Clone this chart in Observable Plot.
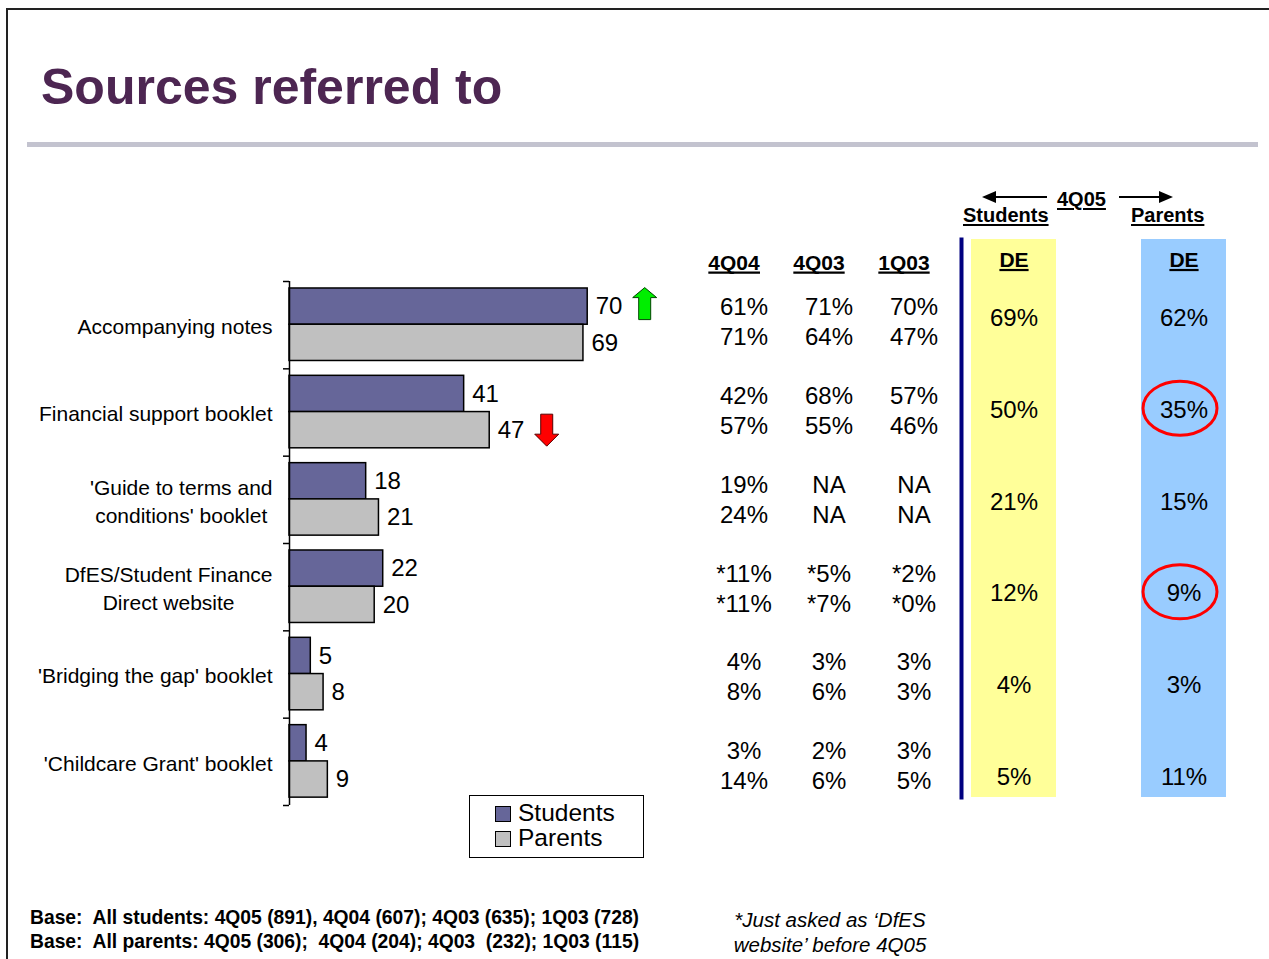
<!DOCTYPE html>
<html><head><meta charset="utf-8">
<script src="https://cdn.jsdelivr.net/npm/d3@7"></script>
<script src="https://cdn.jsdelivr.net/npm/@observablehq/plot@0.6"></script>
<style>
body{margin:0;background:#fff;font-family:"Liberation Sans",Arial,sans-serif;color:#000;}
#slide{position:relative;width:1269px;height:959px;overflow:hidden;background:#fff;}
.abs{position:absolute;white-space:pre;}
.u{text-decoration:underline;text-decoration-thickness:2px;text-underline-offset:2px;}
</style></head><body>
<div id="slide">
  <div class="abs" style="left:6px;top:8px;width:1300px;height:1000px;border-top:2px solid #222;border-left:2px solid #222;"></div>
  <div class="abs" style="left:41px;top:58px;font-size:50px;font-weight:bold;color:#4d2652;line-height:normal;">Sources referred to</div>
  <div class="abs" style="left:27px;top:142px;width:1231px;height:5px;background:#c3c3cf;"></div>

  <!-- 4Q05 header -->
  <div class="abs u" style="left:1057px;top:188px;font-size:20px;font-weight:bold;">4Q05</div>
  <div class="abs u" style="left:963px;top:204px;font-size:20px;font-weight:bold;">Students</div>
  <div class="abs u" style="left:1131px;top:204px;font-size:20px;font-weight:bold;">Parents</div>
  <div class="abs" style="left:994px;top:196px;width:53px;height:2px;background:#000;"></div>
  <div class="abs" style="left:982px;top:191px;width:0;height:0;border-top:6px solid transparent;border-bottom:6px solid transparent;border-right:14px solid #000;"></div>
  <div class="abs" style="left:1119px;top:196px;width:42px;height:2px;background:#000;"></div>
  <div class="abs" style="left:1159px;top:191px;width:0;height:0;border-top:6px solid transparent;border-bottom:6px solid transparent;border-left:14px solid #000;"></div>

  <div class="abs" id="bars" style="left:0px;top:260px;"></div>
  <div class="abs" id="table" style="left:690px;top:230px;"></div>
  <div class="abs" id="de" style="left:951px;top:239px;"></div>

  <!-- legend -->
  <div class="abs" id="legend" style="left:469px;top:795px;width:175px;height:63px;box-sizing:border-box;border:1.5px solid #000;background:#fff;"></div>

  <div class="abs" style="left:30px;top:906px;font-size:19.3px;font-weight:bold;line-height:24px;">Base:  All students: 4Q05 (891), 4Q04 (607); 4Q03 (635); 1Q03 (728)
Base:  All parents: 4Q05 (306);  4Q04 (204); 4Q03  (232); 1Q03 (115)</div>
  <div class="abs" style="left:690px;top:907px;width:280px;text-align:center;font-size:20.5px;font-style:italic;line-height:25px;">*Just asked as ‘DfES
website’ before 4Q05</div>
</div>
<script>
const FONT = '"Liberation Sans", Arial, sans-serif';

// ---- data ----
const categories = [
  "Accompanying notes",
  "Financial support booklet",
  "'Guide to terms and\nconditions' booklet",
  "DfES/Student Finance\nDirect website",
  "'Bridging the gap' booklet",
  "'Childcare Grant' booklet"
];
const seriesNames = ["Students", "Parents"];
const seriesColors = ["#666699", "#c0c0c0"];
const students = [70, 41, 18, 22, 5, 4];
const parents = [69, 47, 21, 20, 8, 9];
const studentTrend = ["up", "", "", "", "", ""];
const parentTrend = ["", "down", "", "", "", ""];

const trendColumns = ["4Q04", "4Q03", "1Q03"];
const students4Q04 = ["61%", "42%", "19%", "*11%", "4%", "3%"];
const students4Q03 = ["71%", "68%", "NA", "*5%", "3%", "2%"];
const students1Q03 = ["70%", "57%", "NA", "*2%", "3%", "3%"];
const parents4Q04 = ["71%", "57%", "24%", "*11%", "8%", "14%"];
const parents4Q03 = ["64%", "55%", "NA", "*7%", "6%", "6%"];
const parents1Q03 = ["47%", "46%", "NA", "*0%", "3%", "5%"];

const deColumns = ["Students", "Parents"];
const deHeader = "DE";
const studentsDE = ["69%", "50%", "21%", "12%", "4%", "5%"];
const parentsDE = ["62%", "35%", "15%", "9%", "3%", "11%"];
const parentsDEHighlighted = [false, true, false, true, false, false];

// ---- derived tables ----
const slot = {Students: [0.08, 0.495], Parents: [0.495, 0.91]};
const barRows = categories.flatMap((c, i) => [
  {i, cat: c, series: "Students", value: students[i], trend: studentTrend[i]},
  {i, cat: c, series: "Parents", value: parents[i], trend: parentTrend[i]}
]);
const mid = d => d.i + (slot[d.series][0] + slot[d.series][1]) / 2;

const sQ = [students4Q04, students4Q03, students1Q03];
const pQ = [parents4Q04, parents4Q03, parents1Q03];
const rowOffset = {Students: 0.331, Parents: 0.669};
const tableRows = categories.flatMap((c, i) => trendColumns.flatMap((col, j) => [
  {i, col, series: "Students", label: sQ[j][i]},
  {i, col, series: "Parents", label: pQ[j][i]}
]));
const deRows = categories.flatMap((c, i) => [
  {i, col: "Students", label: studentsDE[i], hl: false},
  {i, col: "Parents", label: parentsDE[i], hl: parentsDEHighlighted[i]}
]);

// ---- symbols ----
const upArrow = {draw(ctx) {
  ctx.moveTo(0, -16); ctx.lineTo(12, -6); ctx.lineTo(6, -6); ctx.lineTo(6, 16);
  ctx.lineTo(-6, 16); ctx.lineTo(-6, -6); ctx.lineTo(-12, -6); ctx.closePath();
}};
const downArrow = {draw(ctx) {
  ctx.moveTo(0, 16); ctx.lineTo(12, 4); ctx.lineTo(6, 4); ctx.lineTo(6, -16);
  ctx.lineTo(-6, -16); ctx.lineTo(-6, 4); ctx.lineTo(-12, 4); ctx.closePath();
}};
const ellipse = {draw(ctx) {
  const rx = 37, ry = 27, k = 0.5523;
  ctx.moveTo(rx, 0);
  ctx.bezierCurveTo(rx, k * ry, k * rx, ry, 0, ry);
  ctx.bezierCurveTo(-k * rx, ry, -rx, k * ry, -rx, 0);
  ctx.bezierCurveTo(-rx, -k * ry, -k * rx, -ry, 0, -ry);
  ctx.bezierCurveTo(k * rx, -ry, rx, -k * ry, rx, 0);
  ctx.closePath();
}};

const baseStyle = {fontFamily: FONT, fontSize: "24px", color: "#000", background: "transparent", overflow: "visible"};

// underline helper for SVG header texts
function underline(svg, desc, fontSize) {
  svg.querySelectorAll(`g[aria-description="${desc}"] text`).forEach(t => {
    const b = t.getBBox();
    const y = b.y + 0.905 * fontSize + 2.8;
    const line = document.createElementNS("http://www.w3.org/2000/svg", "line");
    line.setAttribute("x1", b.x); line.setAttribute("x2", b.x + b.width);
    line.setAttribute("y1", y); line.setAttribute("y2", y);
    line.setAttribute("stroke", "#000"); line.setAttribute("stroke-width", 2.2);
    const tr = t.getAttribute("transform");
    if (tr) line.setAttribute("transform", tr);
    t.parentNode.appendChild(line);
  });
}

// ---- bar chart ----
const barPlot = Plot.plot({
  width: 715, height: 550,
  marginLeft: 289, marginRight: 0, marginTop: 21, marginBottom: 5,
  style: baseStyle,
  x: {domain: [0, 100], axis: null},
  y: {domain: [0, 6], reverse: true, axis: null},
  color: {domain: seriesNames, range: seriesColors},
  marks: [
    Plot.rect(barRows, {
      x1: 0, x2: "value",
      y1: d => d.i + slot[d.series][0], y2: d => d.i + slot[d.series][1],
      fill: "series", stroke: "#000", strokeWidth: 1.5
    }),
    Plot.ruleX([0], {stroke: "#000", strokeWidth: 1.5}),
    Plot.axisY({ticks: d3.range(categories.length + 1), tickSize: 6, tickFormat: () => "", stroke: "#000", strokeWidth: 1.5, strokeOpacity: 1}),
    Plot.text(barRows, {x: "value", y: mid, text: d => String(d.value), textAnchor: "start", dx: 8, fontSize: 24, fill: "#000"}),
    Plot.text(categories, {x: 0, y: (d, i) => i + 0.5, text: d => d, textAnchor: "end", dx: -17, fontSize: 21, lineHeight: 1.33, fill: "#000", ariaDescription: "catlabels"}),
    Plot.dot(barRows.filter(d => d.trend === "up"), {x: "value", y: mid, dx: 57, dy: -3, symbol: upArrow, fill: "#00ee00", stroke: "#004400", strokeWidth: 1}),
    Plot.dot(barRows.filter(d => d.trend === "down"), {x: "value", y: mid, dx: 57, symbol: downArrow, fill: "#ff0000", stroke: "#550000", strokeWidth: 1})
  ]
});
document.getElementById("bars").appendChild(barPlot);

// center multi-line category labels within their (right-aligned) block
barPlot.querySelectorAll('g[aria-description="catlabels"] text').forEach(t => {
  const spans = t.querySelectorAll("tspan");
  if (spans.length < 2) return;
  const w = Math.max(...[...spans].map(s => s.getComputedTextLength()));
  t.setAttribute("text-anchor", "middle");
  spans.forEach(s => { s.setAttribute("x", -w / 2); s.setAttribute("text-anchor", "middle"); });
});

// ---- trend table ----
const tablePlot = Plot.plot({
  width: 275.5, height: 585.4,
  marginLeft: 10.5, marginRight: 10, marginTop: 47.6, marginBottom: 5,
  style: baseStyle,
  x: {type: "band", domain: trendColumns, padding: 0, axis: null},
  y: {domain: [0, 6], reverse: true, axis: null},
  marks: [
    Plot.text(trendColumns, {x: d => d, text: d => d, frameAnchor: "top", lineAnchor: "middle", dy: -15, dx: -10, fontWeight: "bold", fontSize: 21, fill: "#000", ariaDescription: "hdr"}),
    Plot.text(tableRows, {x: "col", y: d => d.i + rowOffset[d.series], text: "label", fontSize: 24, fill: "#000"})
  ]
});
document.getElementById("table").appendChild(tablePlot);
underline(tablePlot, "hdr", 21);

// ---- 4Q05 DE columns ----
const dePlot = Plot.plot({
  width: 295, height: 558,
  marginLeft: 10, marginRight: 10, marginTop: 0, marginBottom: 0,
  style: baseStyle,
  x: {type: "band", domain: deColumns, paddingInner: 0.5, paddingOuter: 10 / 170, axis: null},
  y: {domain: [-0.36, 5.72], reverse: true, axis: null},
  marks: [
    Plot.cell(deColumns, {x: d => d, fill: d => d === "Students" ? "#ffff99" : "#99ccff"}),
    Plot.frame({anchor: "left", stroke: "#000080", strokeWidth: 4}),
    Plot.text(deColumns, {x: d => d, text: () => deHeader, frameAnchor: "top", lineAnchor: "middle", dy: 21, fontWeight: "bold", fontSize: 21, fill: "#000", ariaDescription: "dehdr"}),
    Plot.text(deRows, {x: "col", y: d => d.i + 0.5, text: "label", fontSize: 24, fill: "#000"}),
    Plot.dot(deRows.filter(d => d.hl), {x: "col", y: d => d.i + 0.5, dx: -4, dy: -2, symbol: ellipse, fill: "none", stroke: "#ff0000", strokeWidth: 3})
  ]
});
document.getElementById("de").appendChild(dePlot);
underline(dePlot, "dehdr", 21);

// ---- legend ----
const legend = document.getElementById("legend");
seriesNames.forEach((name, k) => {
  const sw = document.createElement("div");
  sw.style.cssText = `position:absolute;left:25px;top:${9.5 + k * 25}px;width:16px;height:16px;box-sizing:border-box;border:1.5px solid #000;background:${seriesColors[k]};`;
  const tx = document.createElement("div");
  tx.style.cssText = `position:absolute;left:48px;top:${5 + k * 25}px;font-size:24.5px;line-height:24px;white-space:pre;`;
  tx.textContent = name;
  legend.appendChild(sw); legend.appendChild(tx);
});
</script>
</body></html>
